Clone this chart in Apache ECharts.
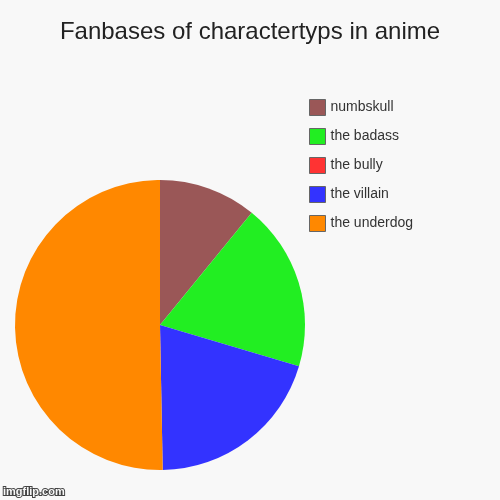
<!DOCTYPE html>
<html>
<head>
<meta charset="utf-8">
<script src="https://cdn.jsdelivr.net/npm/echarts@6/dist/echarts.min.js"></script>
<style>
  html, body { margin: 0; padding: 0; background: #f8f8f8; }
  #chart { width: 500px; height: 500px; }
</style>
</head>
<body>
<div id="chart"></div>
<script>
// slices in clockwise order from 12 o'clock
const categories = ['numbskull', 'the badass', 'the bully', 'the villain', 'the underdog'];
const fanbase = [10.9, 18.7, 0, 20.1, 50.3];
const colors = ['#9a5757', '#22ee22', '#ff3333', '#3333ff', '#ff8800'];

const myChart = echarts.init(document.getElementById('chart'));

const option = {
  backgroundColor: '#f8f8f8',
  color: colors,
  animation: false,
  title: {
    text: 'Fanbases of charactertyps in anime',
    left: 'center',
    top: 15,
    textStyle: {
      fontFamily: 'Liberation Sans',
      fontSize: 24,
      fontWeight: 'normal',
      color: '#222'
    }
  },
  legend: {
    orient: 'vertical',
    left: 309,
    top: 99,
    padding: 0,
    itemWidth: 16,
    itemHeight: 16,
    itemGap: 12,
    icon: 'rect',
    itemStyle: { borderColor: '#666', borderWidth: 1 },
    textStyle: {
      fontFamily: 'Liberation Sans',
      fontSize: 14,
      color: '#333'
    },
    data: categories
  },
  graphic: [{
    type: 'text',
    left: 2,
    top: 485,
    style: {
      text: 'imgflip.com',
      fontFamily: 'Liberation Sans',
      fontSize: 11,
      fontWeight: 'bold',
      fill: '#f8f8f8',
      stroke: '#444',
      lineWidth: 2
    }
  }],
  series: [{
    type: 'pie',
    center: [160, 325],
    radius: 145,
    startAngle: 90,
    clockwise: true,
    label: { show: false },
    labelLine: { show: false },
    itemStyle: { borderWidth: 0 },
    emphasis: { disabled: true },
    data: categories.map((name, i) => ({ name: name, value: fanbase[i] }))
  }]
};

myChart.setOption(option);
</script>
</body>
</html>
